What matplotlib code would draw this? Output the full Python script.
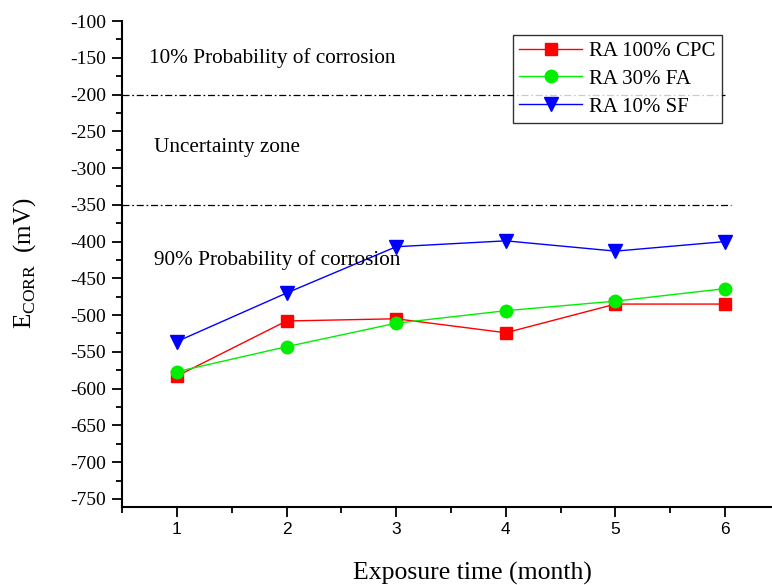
import matplotlib
matplotlib.use("Agg")
import matplotlib.pyplot as plt
from matplotlib.ticker import MultipleLocator

plt.rcParams["axes.unicode_minus"] = False

months = [1, 2, 3, 4, 5, 6]
ra_cpc = [-583, -508, -505, -524, -485, -485]
ra_fa = [-577, -543, -511, -494, -481, -464]
ra_sf = [-536, -470, -407, -399, -413, -400]
labels = ["RA 100% CPC", "RA 30% FA", "RA 10% SF"]

serif = ["Liberation Serif", "DejaVu Serif"]
sans = ["Liberation Sans", "DejaVu Sans"]

fig = plt.figure(figsize=(7.72, 5.85), dpi=100)
W, H = 772, 585
ax = fig.add_axes([122/W, 78/H, 658/W, 486/H])

ax.plot(months, ra_cpc, color="red", marker="s", ms=8, lw=1, label=labels[0])
ax.plot(months, ra_fa, color="#00ee00", marker="o", ms=9, lw=1, label=labels[1])
ax.plot(months, ra_sf, color="blue", marker="v", ms=10, lw=1, label=labels[2])

dd = (0, (5.6, 2.2, 1.4, 2.2))
ax.plot([0.5, 6.0], [-200, -200], color="black", lw=0.9, ls=dd)
ax.plot([0.5, 6.05], [-350, -350], color="black", lw=0.9, ls=dd)

ax.set_xlim(0.5, 6.5)
ax.set_ylim(-761, -100)
ax.xaxis.set_major_locator(MultipleLocator(1))
ax.xaxis.set_minor_locator(MultipleLocator(0.5))
ax.yaxis.set_minor_locator(MultipleLocator(25))
ax.set_yticks(range(-750, -99, 50))

for s in ["top", "right"]:
    ax.spines[s].set_visible(False)
ax.spines["left"].set_linewidth(1.5)
ax.spines["bottom"].set_linewidth(1.5)
ax.tick_params(which="major", direction="out", length=7, width=1.3)
ax.tick_params(which="minor", direction="out", length=4, width=1.3)
ax.tick_params(axis="y", which="major", pad=4.5)
for t in ax.get_yticklabels():
    t.set_fontfamily(serif)
    t.set_fontsize(14)
for t in ax.get_xticklabels():
    t.set_fontfamily(sans)
    t.set_fontsize(12.5)

ax.text(0.75, -150, "10% Probability of corrosion", family=serif, fontsize=15.3, va="center")
ax.text(0.79, -272, "Uncertainty zone", family=serif, fontsize=15.3, va="center")
ax.text(0.79, -425, "90% Probability of corrosion", family=serif, fontsize=15.3, va="center")

ax.set_xlabel("Exposure time (month)", family=serif, fontsize=18.5)
ax.xaxis.set_label_coords((472-122)/658, (507-573)/486)
ax.xaxis.label.set_va("center")
ax.set_ylabel(r"E$_{\mathregular{CORR}}$  (mV)", family=serif, fontsize=18)
ax.yaxis.set_label_coords((25-122)/658, (507-263)/486)
ax.yaxis.label.set_va("center")

leg = ax.legend(loc="upper left", bbox_to_anchor=((513-122)/658, (507-35)/486),
                prop={"family": serif, "size": 15}, frameon=True, fancybox=False,
                handlelength=3.0, borderpad=0.3, labelspacing=0.4, handletextpad=0.35,
                borderaxespad=0)
leg.get_frame().set_edgecolor("black")
leg.get_frame().set_linewidth(1.0)

fig.savefig("out.png", dpi=100)
